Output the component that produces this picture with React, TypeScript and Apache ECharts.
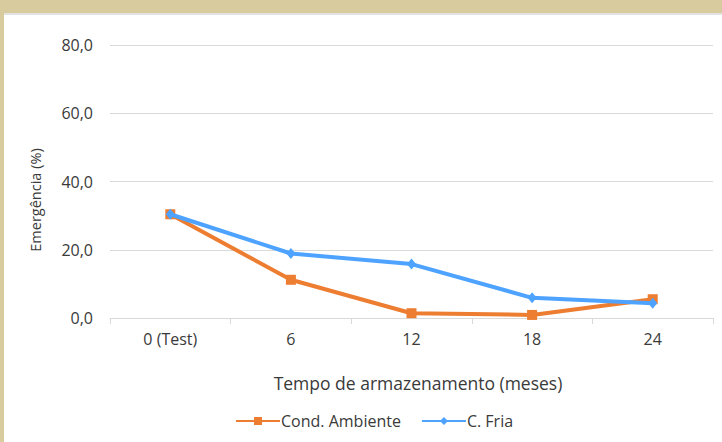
import React, { useEffect, useRef } from "react";
import * as echarts from "echarts";

// Storage time (months) on the x axis
const categories = ["0 (Test)", "6", "12", "18", "24"];
// Emergence (%) per storage condition
const condAmbiente = [30.4, 11.2, 1.4, 0.9, 5.5];
const cFria = [30.4, 18.9, 15.8, 5.9, 4.3];
// Value axis ticks
const yTicks = [0, 20, 40, 60, 80];

const FONT = "'Open Sans', 'Noto Sans', sans-serif";
const TEXT = "#3A3A3A";
const ORANGE = "#ED7D31";
const BLUE = "#4DA3FF";

export default function App() {
  const ref = useRef<HTMLDivElement>(null);

  useEffect(() => {
    if (!ref.current) return;
    const chart = echarts.init(ref.current, undefined, { renderer: "svg" });
    chart.setOption({
      animation: false,
      backgroundColor: "#D8CC9E",
      textStyle: { fontFamily: FONT },
      graphic: [
        {
          type: "rect",
          shape: { x: 4, y: 13, width: 718, height: 429 },
          style: { fill: "#E2E2E2" },
          z: -10,
        },
        {
          type: "rect",
          shape: { x: 4, y: 15, width: 718, height: 427 },
          style: { fill: "#FFFFFF" },
          z: -9,
        },
        {
          type: "text",
          x: 35,
          y: 200,
          rotation: Math.PI / 2,
          style: {
            text: "Emergência (%)",
            fill: TEXT,
            font: `14.5px ${FONT}`,
            align: "center",
            verticalAlign: "middle",
          },
        },
        {
          type: "text",
          x: 418,
          y: 383,
          style: {
            text: "Tempo de armazenamento (meses)",
            fill: TEXT,
            font: `17.5px ${FONT}`,
            align: "center",
            verticalAlign: "middle",
          },
        },
      ],
      grid: { left: 110, right: 9, top: 45, bottom: 124, containLabel: false },
      legend: {
        left: 235,
        top: 413,
        padding: 0,
        itemWidth: 44,
        itemHeight: 10,
        itemGap: 20,
        textStyle: { color: TEXT, fontSize: 16, fontFamily: FONT, padding: [0, 0, 0, -4] },
        data: ["Cond. Ambiente", "C. Fria"],
      },
      xAxis: {
        type: "category",
        data: categories,
        boundaryGap: true,
        axisLine: { lineStyle: { color: "#D9D9D9", width: 1 } },
        axisTick: { show: true, length: 6, lineStyle: { color: "#D9D9D9" } },
        axisLabel: { color: TEXT, fontSize: 16, fontFamily: FONT, margin: 13 },
      },
      yAxis: {
        type: "value",
        min: yTicks[0],
        max: yTicks[yTicks.length - 1],
        interval: 20,
        axisLine: { show: false },
        axisTick: { show: false },
        splitLine: { lineStyle: { color: "#D9D9D9", width: 1 } },
        axisLabel: {
          color: TEXT,
          fontSize: 16,
          fontFamily: FONT,
          margin: 17,
          formatter: (v: number) => v.toFixed(1).replace(".", ","),
        },
      },
      series: [
        {
          name: "Cond. Ambiente",
          type: "line",
          data: condAmbiente,
          symbol: "rect",
          symbolSize: 10,
          lineStyle: { color: ORANGE, width: 4 },
          itemStyle: { color: ORANGE },
          z: 2,
        },
        {
          name: "C. Fria",
          type: "line",
          data: cFria,
          symbol: "diamond",
          symbolSize: [9, 11],
          lineStyle: { color: BLUE, width: 4 },
          itemStyle: { color: BLUE },
          z: 3,
        },
      ],
    });
    return () => chart.dispose();
  }, []);

  return (
    <div
      ref={ref}
      style={{ position: "fixed", left: 0, top: 0, width: 722, height: 442 }}
    />
  );
}
